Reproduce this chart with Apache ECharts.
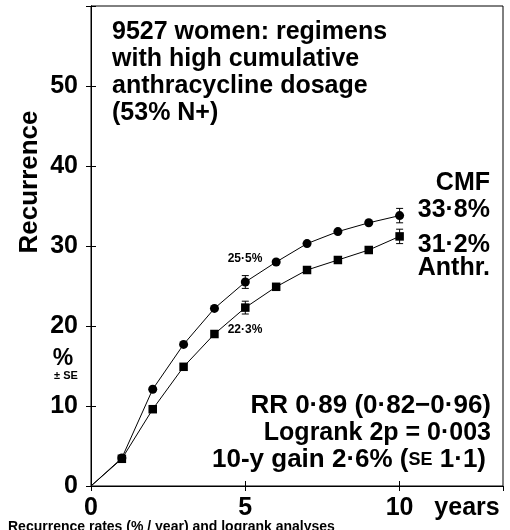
<!DOCTYPE html>
<html><head><meta charset="utf-8">
<script src="https://cdn.jsdelivr.net/npm/echarts@6/dist/echarts.min.js"></script>
<style>html,body{margin:0;padding:0;background:#fff}#c{width:510px;height:530px}</style>
</head><body><div id="c"></div>
<script>
const years = [0,1,2,3,4,5,6,7,8,9,10];
const cmf   = [0,3.5,12.1,17.7,22.2,25.5,28.0,30.3,31.8,32.9,33.8];
const anthr = [0,3.4,9.6,14.9,19.0,22.3,24.9,27.0,28.25,29.5,31.2];
const errCMF   = [[5,25.5,0.8],[10,33.8,0.9]];
const errAnthr = [[5,22.3,0.8],[10,31.2,0.9]];
const yTicks = [0,10,20,30,40,50];
const xTicks = [0,5,10];

const F = '"Liberation Sans", Arial, sans-serif';
const chart = echarts.init(document.getElementById('c'), null, {renderer:'canvas'});
function errItem(params, api){
  const x = api.value(0), y = api.value(1), e = api.value(2);
  const p1 = api.coord([x, y+e]), p2 = api.coord([x, y-e]);
  const w = 3.5;
  return {type:'group', children:[
    {type:'line', shape:{x1:p1[0],y1:p1[1],x2:p2[0],y2:p2[1]}, style:{stroke:'#000',lineWidth:1}},
    {type:'line', shape:{x1:p1[0]-w,y1:p1[1],x2:p1[0]+w,y2:p1[1]}, style:{stroke:'#000',lineWidth:1}},
    {type:'line', shape:{x1:p2[0]-w,y1:p2[1],x2:p2[0]+w,y2:p2[1]}, style:{stroke:'#000',lineWidth:1}}
  ]};
}
const axisLbl = {fontFamily:F, fontWeight:'bold', fontSize:25, color:'#000'};
const T = (x,y,text,size,align,extra)=>({type:'text', x:x, y:y, style:Object.assign({text:text, font:'bold '+size+'px '+F, textAlign:align||'right', textVerticalAlign:'middle', fill:'#000'}, extra||{})});
chart.setOption({
  animation:false,
  grid:{left:91, right:7, top:6, bottom:44, show:true, borderColor:'#000', borderWidth:1},
  xAxis:[{type:'value', min:0, max:13.35, interval:5,
    axisLine:{show:true, lineStyle:{color:'#000'}},
    axisTick:{show:true, inside:true, length:5, lineStyle:{color:'#000'}},
    splitLine:{show:false},
    axisLabel:Object.assign({margin:10, showMaxLabel:false, formatter:v=>xTicks.includes(v)?String(v):''}, axisLbl)
  },{type:'value', position:'top', min:0, max:13.35, interval:5,
    axisLine:{show:true, lineStyle:{color:'#000'}},
    axisTick:{show:true, inside:true, length:5, lineStyle:{color:'#000'}},
    splitLine:{show:false}, axisLabel:{show:false}}],
  yAxis:[{type:'value', min:0, max:60, interval:10,
    axisLine:{show:true, lineStyle:{color:'#000'}},
    axisTick:{show:true, inside:true, length:5, lineStyle:{color:'#000'}},
    splitLine:{show:false},
    axisLabel:Object.assign({margin:13, formatter:v=>yTicks.includes(v)?String(v):''}, axisLbl)
  },{type:'value', position:'right', min:0, max:60, interval:10,
    axisLine:{show:true, lineStyle:{color:'#000'}},
    axisTick:{show:true, inside:true, length:5, lineStyle:{color:'#000'}},
    splitLine:{show:false}, axisLabel:{show:false}}],
  series:[
    {type:'line', data:years.map((x,i)=>[x,cmf[i]]), symbol:(v)=>v[0]===0?'none':'circle', symbolSize:9,
     itemStyle:{color:'#000'}, lineStyle:{color:'#000', width:1}, z:3},
    {type:'line', data:years.map((x,i)=>[x,anthr[i]]), symbol:(v)=>v[0]===0?'none':'rect', symbolSize:8.5,
     itemStyle:{color:'#000'}, lineStyle:{color:'#000', width:1}, z:3},
    {type:'custom', data:errCMF, renderItem:errItem, z:4},
    {type:'custom', data:errAnthr, renderItem:errItem, z:4}
  ],
  graphic:[
    {type:'text', left:112, top:19, style:{text:'9527 women: regimens\nwith high cumulative\nanthracycline dosage\n(53% N+)', font:'bold 25px '+F, lineHeight:27, fill:'#000'}},
    T(490,183,'CMF',25), T(490,210,'33·8%',25), T(490,245,'31·2%',25), T(490,268,'Anthr.',25),
    T(245,259,'25·5%',12,'center'), T(245,330,'22·3%',12,'center'),
    T(491,406,'RR 0·89 (0·82−0·96)',26), T(491,433,'Logrank 2p = 0·003',25),
    T(486,460,'10-y gain 2·6% ({s|SE} 1·1)',26,'right',{rich:{s:{font:'bold 18px '+F, fill:'#000'}}}),
    {type:'text', x:30, y:182, rotation:Math.PI/2, style:{text:'Recurrence', font:'bold 26px '+F, textAlign:'center', textVerticalAlign:'middle', fill:'#000'}},
    T(63,359,'%',23,'center'), T(66,376,'± SE',11,'center'),
    T(467,508,'years',25,'center'),
    T(8,527,'Recurrence rates (% / year) and logrank analyses',14,'left')
  ]
});
</script></body></html>
